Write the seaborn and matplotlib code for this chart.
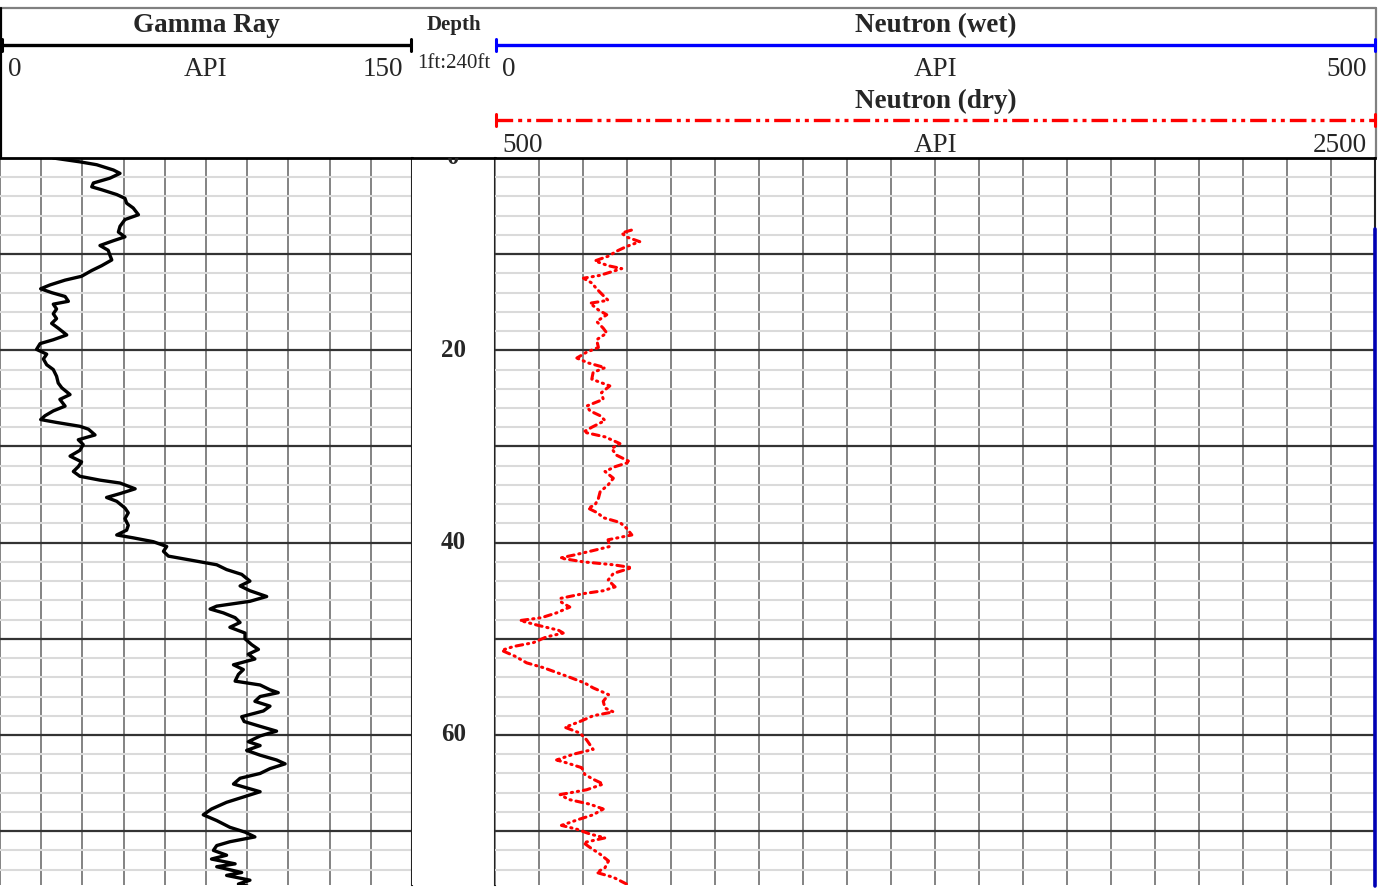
import numpy as np
import pandas as pd
import matplotlib
matplotlib.use("Agg")
import matplotlib.pyplot as plt
import seaborn as sns

sns.set_theme(style="white")
plt.rcParams['font.family'] = ['Liberation Serif', 'DejaVu Serif']

# ---------------- data ----------------
gr_depth = [0.0, 0.4, 0.7, 1.25, 1.6, 2.1, 2.6, 3.0, 3.3, 3.8,
            4.2, 4.7, 5.2, 5.9, 6.4, 7.1, 7.7, 8.2, 8.6, 9.1,
            9.6, 10.1, 10.6, 11.2, 11.7, 12.3, 12.7, 13.2, 13.6, 14.0,
            14.4, 14.9, 15.2, 15.7, 16.2, 16.7, 17.2, 17.7, 18.4, 18.9,
            19.3, 19.9, 20.4, 20.9, 21.5, 22.0, 22.7, 23.4, 23.9, 24.6,
            25.1, 25.8, 26.3, 26.8, 27.2, 27.5, 27.9, 28.2, 28.8, 29.3,
            29.8, 30.4, 31.0, 31.6, 32.1, 32.6, 33.1, 33.5, 33.8, 34.4,
            34.9, 35.3, 35.7, 36.4, 36.9, 37.5, 38.2, 38.7, 39.2, 39.5,
            39.9, 40.4, 40.9, 41.4, 41.8, 42.3, 42.8, 43.3, 44.0, 44.5,
            45.0, 45.6, 46.1, 46.6, 46.9, 47.3, 47.8, 48.3, 48.8, 49.4,
            50.0, 50.6, 51.1, 51.6, 52.1, 52.7, 53.2, 53.7, 54.4, 54.8,
            55.3, 55.6, 56.0, 56.5, 57.0, 57.5, 58.1, 58.6, 59.1, 59.6,
            60.1, 60.7, 61.1, 61.6, 62.1, 62.6, 63.0, 63.5, 64.0, 64.5,
            65.1, 65.6, 65.9, 66.4, 67.0, 67.7, 68.3, 68.9, 69.6, 70.1,
            70.6, 71.1, 71.5, 72.0, 72.5, 72.9, 73.4, 73.7, 74.3, 74.6,
            75.1, 75.5, 75.7]
gr_api = [19.4, 29.1, 35.2, 41.3, 43.7, 40.0, 34.0, 33.4, 37.0, 42.5,
          45.5, 46.1, 48.5, 50.4, 45.5, 43.7, 43.1, 45.5, 41.3, 36.4,
          39.4, 40.0, 40.7, 37.0, 33.4, 29.7, 23.7, 18.2, 14.8, 18.8,
          23.7, 24.9, 19.4, 20.6, 19.4, 20.6, 18.8, 21.2, 24.3, 19.4,
          14.6, 13.3, 17.0, 15.8, 17.0, 19.4, 20.6, 21.2, 22.5, 25.5,
          21.8, 23.7, 19.4, 16.4, 14.8, 20.6, 29.1, 32.2, 34.6, 28.5,
          30.3, 29.1, 25.5, 29.7, 28.5, 26.7, 29.1, 36.4, 43.7, 49.2,
          43.7, 38.8, 42.5, 45.5, 46.7, 45.5, 46.7, 46.1, 42.5, 48.5,
          55.8, 60.7, 59.5, 61.3, 69.2, 78.9, 82.5, 88.0, 91.0, 87.4,
          91.0, 97.1, 91.0, 78.9, 76.5, 81.3, 85.6, 87.4, 83.7, 89.2,
          89.2, 91.6, 94.1, 90.4, 92.8, 85.0, 88.6, 86.8, 85.6, 94.7,
          98.3, 101.3, 94.7, 92.8, 98.3, 95.9, 88.0, 88.9, 94.7, 100.7,
          94.7, 90.4, 94.7, 89.8, 94.7, 100.7, 103.8, 98.3, 94.7, 87.4,
          85.0, 91.0, 94.7, 89.2, 82.5, 77.0, 74.0, 78.9, 83.7, 89.2,
          92.8, 83.7, 78.9, 77.7, 82.5, 77.0, 85.6, 78.9, 88.0, 82.5,
          91.0, 86.8, 90.0]

nd_depth = [7.5, 7.8, 8.2, 8.7, 9.2, 9.7, 10.2, 10.7, 11.2, 11.5, 12.2, 12.5, 13.0, 13.6, 14.3, 14.8,
            15.1, 15.8, 16.3, 17.0, 17.7, 18.2, 18.9, 19.7, 20.2, 20.8, 21.3, 21.8, 22.3, 23.0,
            23.7, 24.4, 25.1, 25.8, 26.3, 26.8, 27.3, 28.0, 28.5, 29.0, 29.7, 30.2, 30.9, 31.6,
            32.1, 32.6, 33.3, 34.0, 34.7, 35.4, 36.1, 36.4, 36.9, 37.4, 37.9, 38.5, 39.2, 39.7,
            40.4, 40.9, 41.3, 41.6, 42.0, 42.3, 42.6, 43.2, 43.9, 44.6, 45.0, 45.3, 45.8, 46.2,
            46.7, 47.3, 47.8, 48.1, 48.6, 49.1, 49.4, 49.8, 50.4, 50.8, 51.2, 51.8, 52.5, 53.0,
            53.5, 54.0, 54.6, 55.1, 55.8, 56.5, 57.2, 57.6, 58.0, 58.6, 59.2, 59.8, 60.5, 61.5,
            62.0, 62.6, 62.9, 63.4, 64.1, 64.6, 65.1, 65.7, 66.2, 66.7, 67.2, 67.7, 68.3, 68.8,
            69.4, 69.8, 70.3, 70.7, 71.2, 71.7, 72.4, 73.1, 73.8, 74.3, 74.8, 75.5, 75.7]
nd_api = [810, 788, 798, 829, 799, 776, 758, 727, 757, 788, 739, 701, 720, 731, 746, 757,
          716, 735, 754, 731, 746, 754, 731, 735, 708, 686, 711, 750, 723, 720,
          761, 742, 746, 708, 716, 739, 750, 720, 701, 750, 784, 765, 776, 807,
          773, 750, 769, 757, 739, 735, 727, 711, 733, 746, 784, 799, 811, 757,
          761, 716, 678, 648, 701, 769, 811, 769, 757, 773, 746, 701, 648, 651,
          670, 640, 606, 557, 598, 644, 655, 617, 587, 542, 515, 545, 572, 610,
          640, 670, 704, 723, 758, 746, 750, 769, 723, 693, 659, 693, 708, 723,
          678, 640, 663, 697, 704, 723, 746, 708, 648, 667, 716, 746, 723, 689,
          651, 686, 716, 750, 701, 716, 739, 758, 750, 731, 769, 799, 805]

nw_depth = [7.4, 75.7]
nw_api = [500, 500]          # off-scale reading, pinned at the right edge

gr_range = (0, 150)
nw_range = (0, 500)
nd_range = (500, 2500)
depth_range = (0, 75.6)
depth_labels = [0, 20, 40, 60]

gr_df = pd.DataFrame({"depth": gr_depth, "api": gr_api})
nd_df = pd.DataFrame({"depth": nd_depth, "api": nd_api})
nw_df = pd.DataFrame({"depth": nw_depth, "api": nw_api})

# ---------------- layout ----------------
W, H = 1389, 888
fig = plt.figure(figsize=(W / 100, H / 100), dpi=100)

def px_axes(x0, y0, x1, y1, **kw):
    return fig.add_axes([x0 / W, 1 - y1 / H, (x1 - x0) / W, (y1 - y0) / H], **kw)

TOP, BOT = 158, 885
ax_gr = px_axes(0, TOP, 412, BOT)
ax_dp = px_axes(412, TOP, 495, BOT)
ax_nd = px_axes(495, TOP, 1375, BOT)

GRID_V = '#6e6e6e'
GRID_MAJ = '#333333'
GRID_MIN = '#dadada'

def style_track(ax, xlim, nx):
    ax.set_xlim(*xlim)
    ax.set_ylim(depth_range[1], depth_range[0])
    ax.set_xticks(np.linspace(xlim[0], xlim[1], nx + 1))
    ax.set_yticks(np.arange(0, 76, 10))
    ax.set_yticks(np.arange(0, 76, 2), minor=True)
    ax.grid(axis='y', which='minor', color=GRID_MIN, lw=1.5, zorder=0)
    ax.grid(axis='x', which='major', color=GRID_V, lw=1.2)
    ax.grid(axis='y', which='major', color=GRID_MAJ, lw=1.6)
    ax.set_axisbelow(True)
    ax.tick_params(which='both', length=0, labelbottom=False, labelleft=False,
                   labeltop=False, labelright=False)
    ax.set_xlabel(''); ax.set_ylabel('')
    for s in ['bottom', 'left']:
        ax.spines[s].set_visible(False)
    ax.spines['top'].set_color('black'); ax.spines['top'].set_linewidth(2)
    ax.spines['right'].set_color('#222222'); ax.spines['right'].set_linewidth(1.5)

# Gamma ray track
sns.lineplot(data=gr_df, x="api", y="depth", sort=False, estimator=None,
             color='black', lw=2.4, ax=ax_gr)
style_track(ax_gr, gr_range, 10)

# Neutron track
sns.lineplot(data=nd_df, x="api", y="depth", sort=False, estimator=None,
             color='red', lw=2.2, ax=ax_nd)
ln = ax_nd.lines[-1]
ln.set_linestyle((0, (2.2, 1.6, 0.4, 1.6, 0.4, 1.6)))
ln.set_dash_capstyle('round')
style_track(ax_nd, nd_range, 20)
ax_nw = ax_nd.twiny()
sns.lineplot(data=nw_df, x="api", y="depth", sort=False, estimator=None,
             color='#0000b4', lw=2.6, ax=ax_nw)
ax_nw.set_xlim(*nw_range)
ax_nw.set_ylim(depth_range[1], depth_range[0])
ax_nw.lines[-1].set_clip_on(False)
ax_nw.axis('off')

# Depth track
ax_dp.set_xlim(0, 1)
ax_dp.set_ylim(depth_range[1], depth_range[0])
ax_dp.set_xticks([]); ax_dp.set_yticks([])
ax_dp.set_facecolor('white')
for s in ['bottom', 'left']:
    ax_dp.spines[s].set_visible(False)
ax_dp.spines['top'].set_color('black'); ax_dp.spines['top'].set_linewidth(2)
ax_dp.spines['right'].set_color('#222222'); ax_dp.spines['right'].set_linewidth(1.5)
for d in depth_labels:
    ax_dp.text(0.5, d, f"{d}", ha='center', va='center', fontsize=18,
               fontweight='bold', clip_on=True)

# ---------------- header ----------------
hdr = fig.add_axes([0, 0, 1, 1], zorder=-1)
hdr.set_xlim(0, W); hdr.set_ylim(H, 0); hdr.axis('off')

# frame
hdr.plot([0, 1376], [8, 8], color='#808080', lw=1.6)
hdr.plot([1376, 1376], [8, 158], color='#808080', lw=1.6)
hdr.plot([1, 1], [8, 158], color='black', lw=1.6)

def scale_bar(x0, x1, y, color, ls='-'):
    hdr.plot([x0, x1], [y, y], color=color, lw=2.4, ls=ls, solid_capstyle='butt')
    for x in (x0, x1):
        hdr.plot([x, x], [y - 6, y + 6], color=color, lw=2.2)

scale_bar(2, 411, 45, 'black')
scale_bar(496, 1375, 45, 'blue')
scale_bar(496, 1375, 120, 'red', ls=(0, (5, 1.5, 1.2, 1.5, 1.2, 1.5)))

TS = 19.5
hdr.text(206, 26, "Gamma Ray", ha='center', va='center', fontsize=TS, fontweight='bold')
hdr.text(8, 70, f"{gr_range[0]}", ha='left', va='center', fontsize=TS)
hdr.text(206, 70, "API", ha='center', va='center', fontsize=TS)
hdr.text(403, 70, f"{gr_range[1]}", ha='right', va='center', fontsize=TS)

hdr.text(454, 25, "Depth", ha='center', va='center', fontsize=15, fontweight='bold')
hdr.text(454, 63, "1ft:240ft", ha='center', va='center', fontsize=15)

hdr.text(936, 26, "Neutron (wet)", ha='center', va='center', fontsize=TS, fontweight='bold')
hdr.text(502, 70, f"{nw_range[0]}", ha='left', va='center', fontsize=TS)
hdr.text(936, 70, "API", ha='center', va='center', fontsize=TS)
hdr.text(1367, 70, f"{nw_range[1]}", ha='right', va='center', fontsize=TS)

hdr.text(936, 101, "Neutron (dry)", ha='center', va='center', fontsize=TS, fontweight='bold')
hdr.text(502, 146, f"{nd_range[0]}", ha='left', va='center', fontsize=TS)
hdr.text(936, 146, "API", ha='center', va='center', fontsize=TS)
hdr.text(1367, 146, f"{nd_range[1]}", ha='right', va='center', fontsize=TS)

fig.savefig("out.png", dpi=100, facecolor='white')
